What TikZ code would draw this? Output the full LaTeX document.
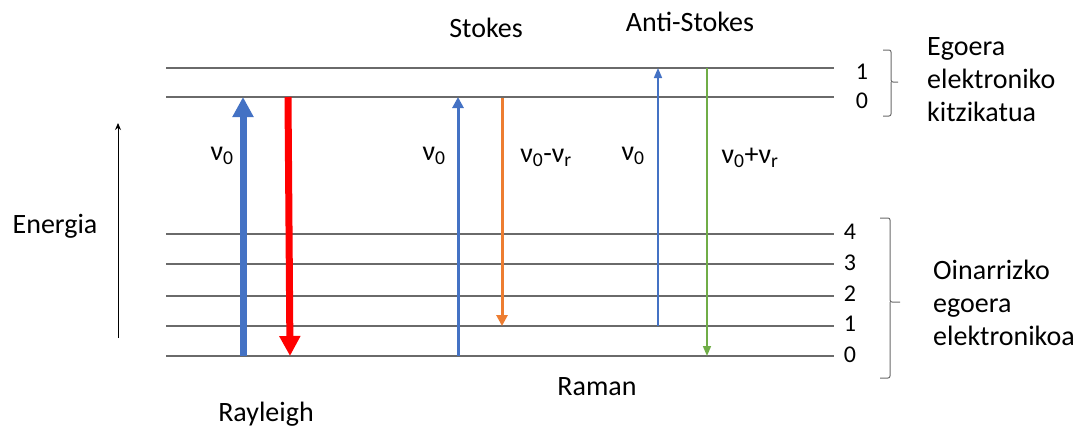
\documentclass[tikz,border=0pt]{standalone}
\usepackage{fontspec}
\setmainfont{Carlito}
\usetikzlibrary{arrows.meta}
\definecolor{cblue}{HTML}{4472C4}
\definecolor{cred}{HTML}{FF0000}
\definecolor{corange}{HTML}{ED7D31}
\definecolor{cgreen}{HTML}{70AD47}
\definecolor{cline}{HTML}{6A6A6A}
\begin{document}
\begin{tikzpicture}[x=1pt,y=-1pt,
  lvl/.style={draw=cline,line width=1.1pt},
  txt/.style={inner sep=0pt,font=\fontsize{28}{33}\selectfont},
  num/.style={inner sep=0pt,font=\fontsize{24}{28}\selectfont},
  bigarrow/.style={line width=7pt,-{Triangle[width=20pt,length=20pt]}},
  midarrow/.style={line width=3pt,-{Triangle[width=11pt,length=11pt]}},
  thinarrow/.style={line width=1.6pt,-{Triangle[width=8pt,length=10pt]}},
  brk/.style={draw=cline,line width=1pt,rounded corners=2pt}]
\useasboundingbox (0,0) rectangle (1084,429);

% energy levels
\foreach \n/\y in {e1/68,e0/97,g4/234,g3/264,g2/296,g1/326,g0/356}{
  \coordinate (\n L) at (166,\y);
  \coordinate (\n R) at (834,\y);
  \draw[lvl] (\n L) -- (\n R);
}
% level numbers
\node[num] (ne1) at (862,72) {1};
\node[num] (ne0) at (862,101) {0};
\node[num] (ng4) at (850,232) {4};
\node[num] (ng3) at (850,263) {3};
\node[num] (ng2) at (850,294) {2};
\node[num] (ng1) at (850,324) {1};
\node[num] (ng0) at (850,355) {0};

% braces
\draw[brk] (883,50) -- (891,50) -- (891,82) -- (898,82);
\draw[brk] (891,82) -- (891,116) -- (883,116);
\draw[brk] (880,218) -- (890,218) -- (890,302) -- (900,302);
\draw[brk] (890,302) -- (890,378) -- (880,378);

\node[txt,anchor=west,align=left] (exc) at (927,80) {Egoera\\elektroniko\\kitzikatua};
\node[txt,anchor=west,align=left] (gnd) at (933,303) {Oinarrizko\\egoera\\elektronikoa};

% energy axis
\coordinate (ea0) at (118,338);
\coordinate (ea1) at (118,123);
\draw[line width=0.9pt,-{Stealth[length=7pt,width=6pt]}] (ea0) -- (ea1);
\node[txt] (energia) at (55,226) {Energia};

% headings
\node[txt] (stokes) at (486,28) {Stokes};
\node[txt] (astokes) at (690,22) {Anti-Stokes};
\node[txt] (raman) at (597,387) {Raman};
\node[txt] (rayleigh) at (266,414) {Rayleigh};

% Rayleigh
\coordinate (r1a) at (243,356); \coordinate (r1b) at (243,97);
\draw[bigarrow,cblue] (r1a) -- (r1b);
\coordinate (r2a) at (288,97); \coordinate (r2b) at (290,356);
\draw[bigarrow,cred] (r2a) -- (r2b);
\node[txt] (lr) at (222,156) {ν\textsubscript{0}};

% Stokes
\coordinate (s1a) at (458,356); \coordinate (s1b) at (458,97);
\draw[midarrow,cblue] (s1a) -- (s1b);
\coordinate (s2a) at (502,98); \coordinate (s2b) at (502,326);
\draw[midarrow,corange] (s2a) -- (s2b);
\node[txt] (ls1) at (434,156) {ν\textsubscript{0}};
\node[txt] (ls2) at (546,158) {ν\textsubscript{0}-ν\textsubscript{r}};

% Anti-Stokes
\coordinate (a1a) at (658,326); \coordinate (a1b) at (658,68);
\draw[thinarrow,cblue] (a1a) -- (a1b);
\coordinate (a2a) at (707,68); \coordinate (a2b) at (707,356);
\draw[thinarrow,cgreen] (a2a) -- (a2b);
\node[txt] (la1) at (633,156) {ν\textsubscript{0}};
\node[txt] (la2) at (750,158) {ν\textsubscript{0}+ν\textsubscript{r}};
\end{tikzpicture}
\end{document}
